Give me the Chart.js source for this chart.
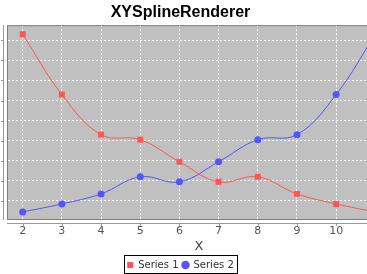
<!DOCTYPE html>
<html>
<head>
<meta charset="utf-8">
<script src="https://cdn.jsdelivr.net/npm/chart.js@4/dist/chart.umd.min.js"></script>
<style>
  body { margin: 0; background: #fff; overflow: hidden; }
  #wrap { position: relative; width: 367px; height: 274px; overflow: hidden; }
  #myChart { position: absolute; left: -30px; top: 0; }
</style>
</head>
<body>
<div id="wrap"><canvas id="myChart" width="427" height="281"></canvas></div>
<script>
// values
const xValues = [2, 3, 4, 5, 6, 7, 8, 9, 10, 11];
const series1 = [9.3, 6.3, 4.3, 4.05, 2.95, 1.95, 2.2, 1.35, 0.85, 0.45];
const series2 = [0.45, 0.85, 1.35, 2.2, 1.95, 2.95, 4.05, 4.3, 6.3, 9.3];
const xTicks = [2, 3, 4, 5, 6, 7, 8, 9, 10, 11];
const yTicks = [1, 2, 3, 4, 5, 6, 7, 8, 9];

// plot background, offset axis lines and legend frame (JFreeChart look)
const plotDeco = {
  id: 'plotDeco',
  beforeDraw(chart) {
    const a = chart.chartArea, ctx = chart.ctx;
    ctx.save();
    ctx.fillStyle = '#c0c0c0';
    ctx.fillRect(a.left, a.top, a.right - a.left, a.bottom - a.top);
    ctx.restore();
  },
  afterDraw(chart) {
    const a = chart.chartArea, ctx = chart.ctx;
    const xs = chart.scales.x, ys = chart.scales.y;
    ctx.save();
    ctx.strokeStyle = '#808080';
    ctx.lineWidth = 1;
    ctx.strokeRect(a.left + 0.5, a.top + 0.5, a.right - a.left - 1, a.bottom - a.top - 1);
    // y axis line + ticks
    ctx.strokeStyle = '#9a9a9a';
    ctx.beginPath();
    ctx.moveTo(a.left - 3.5, a.top);
    ctx.lineTo(a.left - 3.5, a.bottom);
    yTicks.forEach(v => {
      const py = Math.round(ys.getPixelForValue(v)) + 0.5;
      ctx.moveTo(a.left - 6, py);
      ctx.lineTo(a.left - 3.5, py);
    });
    // x axis line + ticks
    ctx.moveTo(a.left, a.bottom + 3.5);
    ctx.lineTo(a.right, a.bottom + 3.5);
    xTicks.forEach(v => {
      const px = Math.round(xs.getPixelForValue(v)) + 0.5;
      ctx.moveTo(px, a.bottom + 3.5);
      ctx.lineTo(px, a.bottom + 6);
    });
    ctx.stroke();
    // legend frame
    const boxes = chart.legend.legendHitBoxes;
    if (boxes && boxes.length) {
      const x0 = Math.min(...boxes.map(b => b.left)) - 3;
      const x1 = Math.max(...boxes.map(b => b.left + b.width)) + 3;
      const y0 = Math.min(...boxes.map(b => b.top)) - 5;
      const y1 = Math.max(...boxes.map(b => b.top + b.height)) + 3;
      ctx.strokeStyle = '#000';
      ctx.strokeRect(Math.round(x0) + 0.5, Math.round(y0) + 0.5, Math.round(x1 - x0), Math.round(y1 - y0));
    }
    ctx.restore();
  }
};

const ctx = document.getElementById('myChart').getContext('2d');
const myChart = new Chart(ctx, {
  type: 'line',
  data: {
    datasets: [
      {
        label: 'Series 1',
        data: xValues.map((x, i) => ({ x: x, y: series1[i] })),
        borderColor: '#ff5555',
        backgroundColor: '#ff5555',
        borderWidth: 1,
        pointStyle: 'rect',
        pointRadius: 4.2,
        pointBorderWidth: 0,
        tension: 0.4
      },
      {
        label: 'Series 2',
        data: xValues.map((x, i) => ({ x: x, y: series2[i] })),
        borderColor: '#5555ff',
        backgroundColor: '#5555ff',
        borderWidth: 1,
        pointStyle: 'circle',
        pointRadius: 3.5,
        pointBorderWidth: 0,
        tension: 0.4
      }
    ]
  },
  options: {
    responsive: false,
    animation: false,
    layout: { padding: { left: 0, right: 6, top: 0, bottom: 1 } },
    plugins: {
      title: {
        display: true,
        text: 'XYSplineRenderer',
        color: '#000',
        font: { family: 'Liberation Sans', size: 16, weight: 'bold' },
        padding: { top: 3, bottom: 3 }
      },
      legend: {
        position: 'bottom',
        labels: {
          usePointStyle: true,
          boxWidth: 6,
          boxHeight: 6,
          padding: 4,
          color: '#333',
          font: { family: 'DejaVu Sans', size: 10 }
        }
      },
      tooltip: { enabled: false }
    },
    scales: {
      x: {
        type: 'linear',
        min: 1.6,
        max: 11.4,
        afterBuildTicks: s => { s.ticks = xTicks.map(v => ({ value: v })); },
        afterFit: s => { s.height = 36; },
        grid: { color: 'rgba(255,255,255,0.9)', lineWidth: 1, drawTicks: false },
        border: { display: true, color: 'rgba(0,0,0,0)', dash: [2, 2] },
        ticks: { padding: 5, color: '#555', font: { family: 'DejaVu Sans', size: 11 } },
        title: { display: true, text: 'X', color: '#444', padding: { top: 0, bottom: 2 }, font: { family: 'DejaVu Sans', size: 13 } }
      },
      y: {
        min: 0.05,
        max: 9.75,
        afterBuildTicks: s => { s.ticks = yTicks.map(v => ({ value: v })); },
        afterFit: s => { s.width = 37; },
        grid: { color: 'rgba(255,255,255,0.9)', lineWidth: 1, drawTicks: false },
        border: { display: true, color: 'rgba(0,0,0,0)', dash: [2, 2] },
        ticks: { display: false }
      }
    }
  },
  plugins: [plotDeco]
});
</script>
</body>
</html>
